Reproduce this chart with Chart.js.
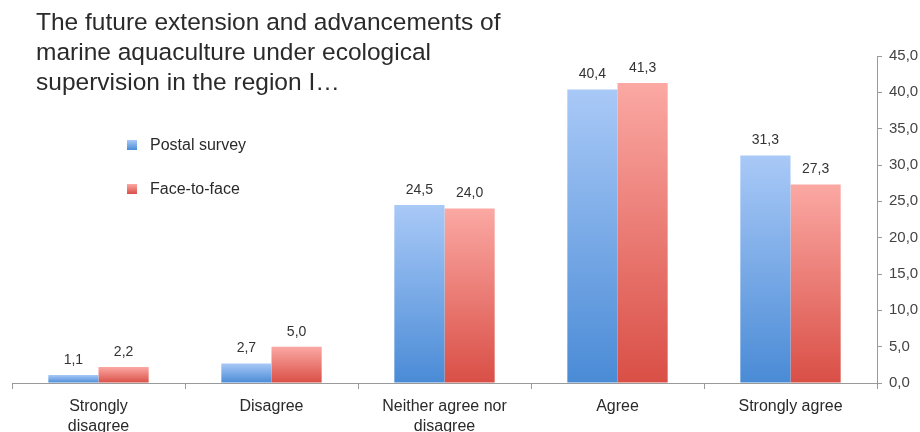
<!DOCTYPE html>
<html>
<head>
<meta charset="utf-8">
<script src="https://cdn.jsdelivr.net/npm/chart.js@4/dist/chart.umd.min.js"></script>
<style>
  html, body { margin: 0; padding: 0; background: #fff; }
  #wrap { position: relative; width: 920px; height: 432px; overflow: hidden; font-family: "Liberation Sans", Arial, sans-serif; }
  #title { position: absolute; left: 36px; top: 7px; font-size: 24.5px; line-height: 30px; color: #2a2a2a; white-space: nowrap; }
  #legend { position: absolute; left: 127px; top: 134px; font-size: 16px; color: #2a2a2a; }
  .li { position: relative; height: 22px; line-height: 22px; padding-left: 23px; margin-bottom: 22px; white-space: nowrap; }
  .sw { position: absolute; left: 0; top: 6px; width: 10px; height: 10px; }
  canvas { position: absolute; left: 0; top: 0; }
</style>
</head>
<body>
<div id="wrap">
  <canvas id="c" width="920" height="432"></canvas>
  <div id="title">The future extension and advancements of<br>marine aquaculture under ecological<br>supervision in the region I…</div>
  <div id="legend"></div>
</div>
<script>
const categories = [["Strongly", "disagree"], "Disagree", ["Neither agree nor", "disagree"], "Agree", "Strongly agree"];
const postalSurvey = [1.1, 2.7, 24.5, 40.4, 31.3];
const faceToFace = [2.2, 5.0, 24.0, 41.3, 27.3];
const seriesNames = ["Postal survey", "Face-to-face"];
const yMin = 0, yMax = 45, yStep = 5;

const palette = [
  { top: "#a9c9f7", bottom: "#4a8bd6" },
  { top: "#fba8a3", bottom: "#d94f46" }
];

function gradientFor(idx) {
  return function (ctx) {
    const chart = ctx.chart;
    const y = chart.scales && chart.scales.y;
    if (!y || ctx.raw == null) return palette[idx].bottom;
    const yTop = y.getPixelForValue(ctx.raw);
    const yBase = y.getPixelForValue(0);
    if (!isFinite(yTop) || !isFinite(yBase) || yTop === yBase) return palette[idx].bottom;
    const g = chart.ctx.createLinearGradient(0, yTop, 0, yBase);
    g.addColorStop(0, palette[idx].top);
    g.addColorStop(1, palette[idx].bottom);
    return g;
  };
}

const fmt = v => Number(v).toFixed(1).replace(".", ",");

const valueLabels = {
  id: "valueLabels",
  afterDatasetsDraw(chart) {
    const c = chart.ctx;
    c.save();
    c.font = "14px 'Liberation Sans', Arial, sans-serif";
    c.fillStyle = "#333";
    c.textAlign = "center";
    c.textBaseline = "bottom";
    chart.data.datasets.forEach((ds, di) => {
      const meta = chart.getDatasetMeta(di);
      meta.data.forEach((el, i) => {
        c.fillText(fmt(ds.data[i]), el.x, el.y - 8);
      });
    });
    c.restore();
  }
};

const chart = new Chart(document.getElementById("c"), {
  type: "bar",
  data: {
    labels: categories,
    datasets: [
      { label: seriesNames[0], data: postalSurvey, backgroundColor: gradientFor(0), borderWidth: 0 },
      { label: seriesNames[1], data: faceToFace, backgroundColor: gradientFor(1), borderWidth: 0 }
    ]
  },
  options: {
    responsive: false,
    animation: false,
    events: [],
    layout: { padding: { top: 56, left: 12, right: 0, bottom: 0 } },
    datasets: { bar: { categoryPercentage: 0.58, barPercentage: 1.0 } },
    plugins: { legend: { display: false }, title: { display: false }, tooltip: { enabled: false } },
    scales: {
      x: {
        grid: { display: true, drawOnChartArea: false, offset: true, tickLength: 6, color: "#9a9a9a", lineWidth: 1 },
        border: { display: true, color: "#9a9a9a", width: 1 },
        ticks: { color: "#2a2a2a", font: { size: 16, family: "'Liberation Sans', Arial, sans-serif", lineHeight: 1.22 }, padding: 8, maxRotation: 0, autoSkip: false },
        afterFit(s) { s.height = 49; }
      },
      y: {
        position: "right",
        min: yMin, max: yMax,
        grid: { display: true, drawOnChartArea: false, tickLength: 5, color: "#9a9a9a" },
        border: { display: true, color: "#9a9a9a", width: 1 },
        ticks: { stepSize: yStep, color: "#444", font: { size: 15, family: "'Liberation Sans', Arial, sans-serif" }, padding: 7, callback: v => fmt(v) },
        afterFit(s) { s.width = 43; }
      }
    }
  },
  plugins: [valueLabels]
});

const legend = document.getElementById("legend");
chart.data.datasets.forEach((ds, i) => {
  const li = document.createElement("div");
  li.className = "li";
  const sw = document.createElement("span");
  sw.className = "sw";
  sw.style.background = "linear-gradient(" + palette[i].top + "," + palette[i].bottom + ")";
  li.appendChild(sw);
  li.appendChild(document.createTextNode(ds.label));
  legend.appendChild(li);
});
</script>
</body>
</html>
